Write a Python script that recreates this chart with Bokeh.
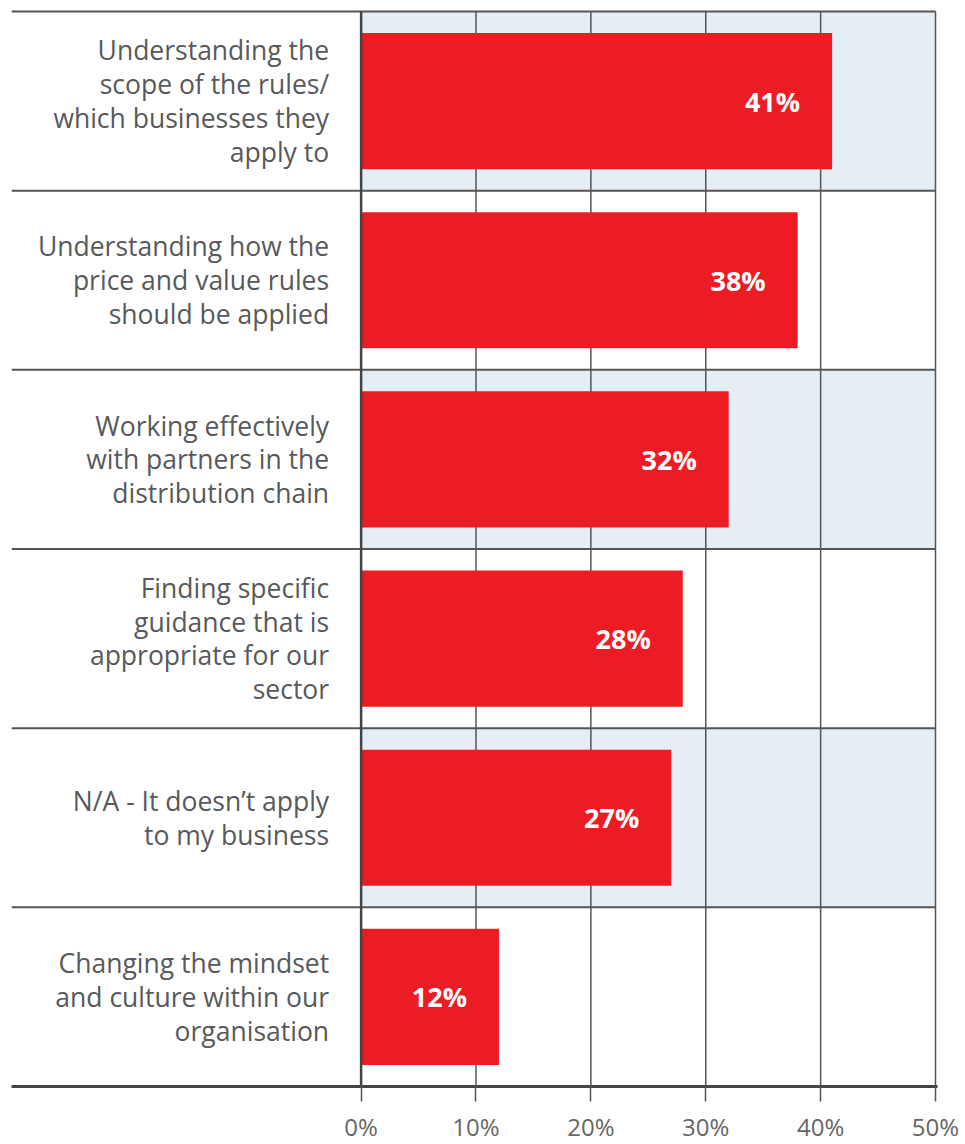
from bokeh.plotting import figure
from bokeh.models import Range1d, FixedTicker, PrintfTickFormatter, ColumnDataSource
from bokeh.core.properties import value
from bokeh.embed import file_html
from bokeh.resources import INLINE

# ---- data ----
categories = [
    "Understanding the\nscope of the rules/\nwhich businesses they\napply to",
    "Understanding how the\nprice and value rules\nshould be applied",
    "Working effectively\nwith partners in the\ndistribution chain",
    "Finding specific\nguidance that is\nappropriate for our\nsector",
    "N/A - It doesn\u2019t apply\nto my business",
    "Changing the mindset\nand culture within our\norganisation",
]
values = [41, 38, 32, 28, 27, 12]
tick_values = [0, 10, 20, 30, 40, 50]

# ---- layout constants ----
FONT = "Open Sans"
RED = "#ED1C24"
BAND = "#E5EDF5"
LINE = "#555555"
TEXT = "#58595B"
FRAME_W = 926
FRAME_H = 1077
PX_PER_PCT = 11.5
LEFT_PCT = 350 / PX_PER_PCT
n = len(categories)
row_px = 1075 / n

ys = [n - i - 0.5 for i in range(n)]
src = ColumnDataSource(dict(
    cat=categories, val=values, y=ys,
    lbl=[f"{v}%" for v in values],
))

p = figure(
    frame_width=FRAME_W, frame_height=FRAME_H,
    x_range=Range1d(-LEFT_PCT, 50 + 2 / PX_PER_PCT),
    y_range=Range1d(0, n + 2 / row_px),
    output_backend="svg", toolbar_location=None,
    min_border_left=11, min_border_top=9, min_border_right=24, min_border_bottom=50,
    outline_line_color=None, background_fill_color="white",
)
p.xgrid.visible = False
p.ygrid.visible = False
p.yaxis.visible = False

# alternating bands
band_idx = [i for i in range(n) if i % 2 == 0]
p.quad(left=[0] * len(band_idx), right=[50] * len(band_idx),
       bottom=[n - i - 1 for i in band_idx], top=[n - i for i in band_idx],
       fill_color=BAND, line_color=None)

# row separators (including top)
seps = list(range(1, n + 1))
p.segment(x0=[-LEFT_PCT] * len(seps), x1=[50] * len(seps), y0=seps, y1=seps,
          line_color=LINE, line_width=2)

# vertical grid lines
p.segment(x0=tick_values[1:], x1=tick_values[1:], y0=[0] * 5, y1=[n] * 5,
          line_color=LINE, line_width=1.5)

# bars
p.hbar(y="y", right="val", left=0, height=0.76, source=src,
       fill_color=RED, line_color=None)

# zero line on top
p.segment(x0=[0], x1=[0], y0=[0], y1=[n], line_color="#444444", line_width=2.5)

# value labels
p.text(x="val", y="y", text="lbl", source=src, x_offset=-32,
       text_align="right", text_baseline="middle",
       text_font=value(FONT), text_font_style="bold",
       text_font_size="27px", text_color="white")

# category labels
p.text(x=0, y="y", text="cat", source=src, x_offset=-32,
       text_align="right", text_baseline="middle",
       text_font=value(FONT), text_font_size="26.5px",
       text_color=TEXT, text_line_height=0.94)

# x axis
ax = p.xaxis[0]
ax.ticker = FixedTicker(ticks=tick_values)
ax.formatter = PrintfTickFormatter(format="%d%%")
ax.axis_line_color = "#444444"
ax.axis_line_width = 3
ax.major_tick_in = 0
ax.major_tick_out = 15
ax.major_tick_line_color = LINE
ax.major_tick_line_width = 1.5
ax.minor_tick_line_color = None
ax.major_label_standoff = 8
ax.major_label_text_font = FONT
ax.major_label_text_font_size = "24px"
ax.major_label_text_color = "#666666"

open("out.html", "w").write(file_html(p, INLINE))
